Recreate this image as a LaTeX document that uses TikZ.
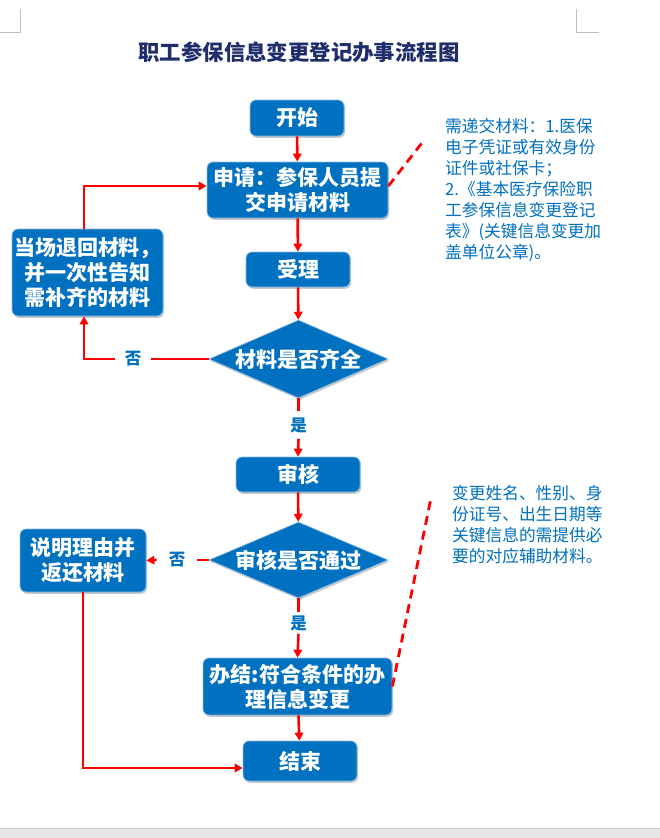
\documentclass[tikz,border=0pt]{standalone}
\usepackage{fontspec}
\newfontfamily\cjk{Noto Sans CJK SC}
\usetikzlibrary{shapes.geometric,arrows.meta,shadows,calc}
\definecolor{boxblue}{HTML}{0070C0}
\definecolor{edgeblue}{HTML}{8DBBE3}
\definecolor{titlec}{HTML}{1F2D6B}
\definecolor{notec}{HTML}{0070C0}
\definecolor{cornerc}{HTML}{BFBFBF}
\definecolor{arrred}{HTML}{FF0000}
\definecolor{barfill}{HTML}{E6E6E6}
\definecolor{barline}{HTML}{C8C8C8}
\begin{document}
\begin{tikzpicture}[x=1pt,y=-1pt,
  box/.style={rectangle, rounded corners=6pt, fill=boxblue, draw=edgeblue, line width=0.7pt,
    text=white, font=\cjk\bfseries\fontsize{21}{25}\selectfont, align=center, inner sep=0pt,
    drop shadow={shadow xshift=1.2pt, shadow yshift=-1.8pt, opacity=0.35, fill=black!60}},
  dia/.style={diamond, aspect=2.3, fill=boxblue, draw=edgeblue, line width=0.7pt,
    text=white, font=\cjk\bfseries\fontsize{21}{25}\selectfont, inner sep=0pt,
    drop shadow={shadow xshift=1.2pt, shadow yshift=-1.8pt, opacity=0.35, fill=black!60}},
  arr/.style={draw=arrred, line width=2.6pt, -{Triangle[length=8pt,width=8.5pt]}},
  lin/.style={draw=arrred, line width=2.6pt},
  lab/.style={text=notec, font=\cjk\bfseries\fontsize{16.5}{18}\selectfont, inner sep=0pt},
  note/.style={text=notec, font=\cjk\fontsize{16.7}{21}\selectfont, align=left, inner sep=0pt, anchor=north west},
  dashln/.style={draw=arrred, line width=2.8pt, dash pattern=on 9pt off 6pt},
  corner/.style={draw=cornerc, line width=1pt}]
\useasboundingbox (0,0) rectangle (660,838);
\fill[white] (0,0) rectangle (660,838);

% page corner marks and bottom bar
\draw[corner] (0,32) -- (20,32) -- (20,9);
\draw[corner] (576,9) -- (576,32) -- (599,32);
\fill[barfill] (0,828) rectangle (660,838);
\draw[barline, line width=1pt] (0,828.5) -- (660,828.5);

% title
\node[text=titlec, font=\cjk\bfseries\fontsize{21.4}{24}\selectfont, inner sep=0pt] (title) at (299,52) {职工参保信息变更登记办事流程图};

% main nodes
\node[box, minimum width=94pt, minimum height=36pt] (start) at (297,118) {开始};
\node[box, minimum width=181pt, minimum height=56pt] (apply) at (297.5,190) {申请：参保人员提\\交申请材料};
\node[box, minimum width=104pt, minimum height=35pt] (accept) at (298,269.5) {受理};
\node[dia, minimum width=179pt, minimum height=78pt] (d1) at (298.5,359) {\makebox[0pt]{材料是否齐全}};
\node[box, minimum width=124pt, minimum height=35pt] (check) at (298,474.5) {审核};
\node[dia, minimum width=179pt, minimum height=76pt] (d2) at (298.5,560) {\makebox[0pt]{审核是否通过}};
\node[box, minimum width=189pt, minimum height=57pt] (finish) at (297.5,686.5) {办结:符合条件的办\\理信息变更};
\node[box, minimum width=114pt, minimum height=40pt] (end) at (300,761) {结束};
\node[box, minimum width=151pt, minimum height=87pt] (ret) at (87.5,272.5) {当场退回材料，\\并一次性告知\\需补齐的材料};
\node[box, minimum width=126pt, minimum height=63pt] (expl) at (83,560.5) {说明理由并\\返还材料};

% labels
\node[lab, inner xsep=10pt, inner ysep=6pt] (yes1) at (298.5,425) {是};
\node[lab, inner xsep=10pt, inner ysep=3pt] (yes2) at (298.5,623) {是};
\node[lab, inner xsep=10pt, inner ysep=4pt] (no1) at (133,359) {否};
\node[lab, inner xsep=12pt, inner ysep=4pt] (no2) at (177,560) {否};

% notes
\node[note] (n1) at (445,118.3) {需递交材料：1.医保\\电子凭证或有效身份\\证件或社保卡；\\2.《基本医疗保险职\\工参保信息变更登记\\表》(关键信息变更加\\盖单位公章)。};
\node[note] (n2) at (452,485.3) {变更姓名、性别、身\\份证号、出生日期等\\关键信息的需提供必\\要的对应辅助材料。};

% coordinates
\coordinate (c1) at (84,359);
\coordinate (c2) at (84,186);
\coordinate (c3) at (83,768);
\coordinate (e1) at (425,139);
\coordinate (e2) at (431,498);

% connectors
\draw[arr] (start) -- (apply);
\draw[arr] (apply) -- (accept);
\draw[arr] (accept) -- (d1);
\draw[lin] (d1.south) -- (yes1.north);
\draw[arr] (yes1.south) -- (check.north);
\draw[arr] (check) -- (d2);
\draw[lin] (d2.south) -- (yes2.north);
\draw[arr] (yes2.south) -- (finish.north);
\draw[arr] (finish) -- (end);

\draw[lin] (d1.west) -- (no1.east);
\draw[arr] (no1.west) -- (c1) -- (c1 |- ret.south);
\draw[arr] (c2 |- ret.north) -- (c2) -- (c2 -| apply.west);

\draw[lin] (d2.west) -- (no2.east);
\draw[arr] (no2.west) -- (expl.east);
\draw[arr] (c3 |- expl.south) -- (c3) -- (c3 -| end.west);

% dashed callout lines
\draw[dashln] ([yshift=4pt]apply.east) -- (e1);
\draw[dashln] (finish.east) -- (e2);
\end{tikzpicture}
\end{document}
